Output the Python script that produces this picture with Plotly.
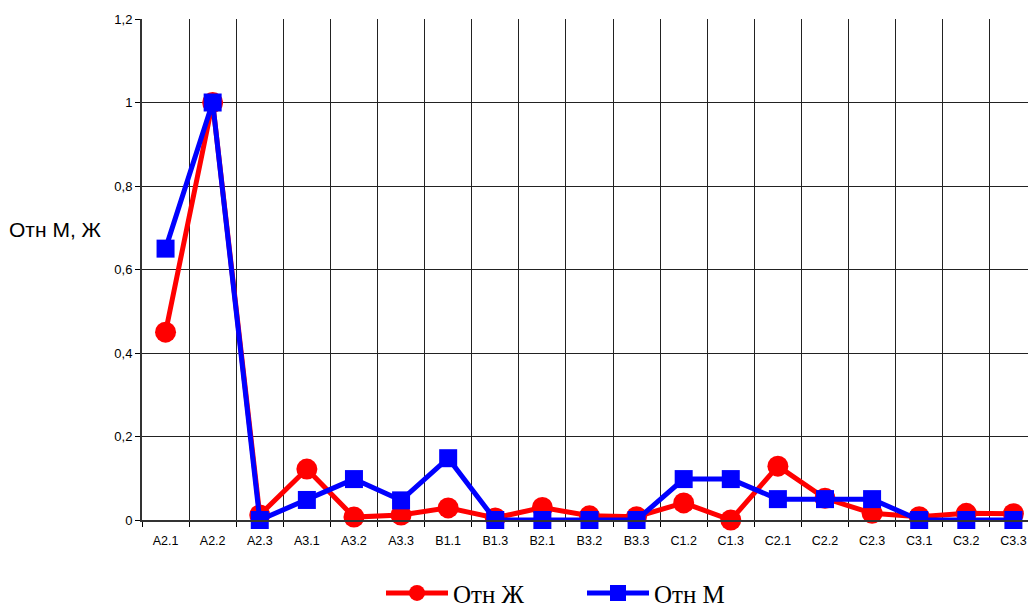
import plotly.graph_objects as go

categories = ["A2.1", "A2.2", "A2.3", "A3.1", "A3.2", "A3.3", "B1.1", "B1.3", "B2.1",
              "B3.2", "B3.3", "C1.2", "C1.3", "C2.1", "C2.2", "C2.3", "C3.1", "C3.2", "C3.3"]
otn_zh = [0.45, 1.0, 0.012, 0.122, 0.007, 0.012, 0.029, 0.005, 0.03,
          0.01, 0.008, 0.041, 0.0, 0.129, 0.052, 0.016, 0.008, 0.016, 0.015]
otn_m = [0.65, 1.0, 0.0, 0.048, 0.098, 0.047, 0.148, 0.0, 0.0,
         0.0, 0.0, 0.098, 0.098, 0.05, 0.05, 0.05, 0.0, 0.0, 0.0]
y_ticks = [0, 0.2, 0.4, 0.6, 0.8, 1.0, 1.2]

fig = go.Figure()
fig.add_trace(go.Scatter(
    x=categories, y=otn_zh, name="Отн Ж", mode="lines+markers",
    line=dict(color="#FF0000", width=5),
    marker=dict(symbol="circle", size=21, color="#FF0000"),
    cliponaxis=False,
))
fig.add_trace(go.Scatter(
    x=categories, y=otn_m, name="Отн М", mode="lines+markers",
    line=dict(color="#0000FF", width=5),
    marker=dict(symbol="square", size=18, color="#0000FF"),
    cliponaxis=False,
))

fig.update_layout(
    width=1028, height=608,
    margin=dict(l=142, r=0, t=19, b=88, autoexpand=False),
    paper_bgcolor="white", plot_bgcolor="white",
    separators=", ",
    font=dict(family="Liberation Sans, Arial, sans-serif", size=13, color="black"),
    showlegend=True,
    legend=dict(
        orientation="h", x=(381 - 142) / 886, xanchor="left", y=-0.146, yanchor="middle",
        xref="paper", yref="paper",
        font=dict(family="Liberation Serif, Times New Roman, serif", size=25, color="black"),
        itemwidth=62, entrywidth=124, entrywidthmode="pixels",
        tracegroupgap=0, bgcolor="rgba(0,0,0,0)",
    ),
    xaxis=dict(
        type="category", range=[-0.5, 18.31],
        tickson="boundaries", ticks="outside", ticklen=5, tickcolor="black",
        ticklabelstandoff=8,
        showgrid=True, gridcolor="#222222", gridwidth=1,
        showline=True, linecolor="#333333", linewidth=2,
        tickfont=dict(size=12.5), zeroline=False,
    ),
    yaxis=dict(
        range=[0, 1.2], tickvals=y_ticks, ticks="outside", ticklen=5, tickcolor="black",
        showgrid=True, gridcolor="#222222", gridwidth=1,
        showline=True, linecolor="#333333", linewidth=2,
        tickfont=dict(size=13), zeroline=False,
    ),
    annotations=[dict(
        text="Отн М, Ж", xref="paper", yref="paper", x=-135 / 886, y=0.579,
        xanchor="left", yanchor="middle", showarrow=False,
        font=dict(family="Liberation Sans, Arial, sans-serif", size=21, color="black"),
    )],
)

fig.write_html("out.html")
